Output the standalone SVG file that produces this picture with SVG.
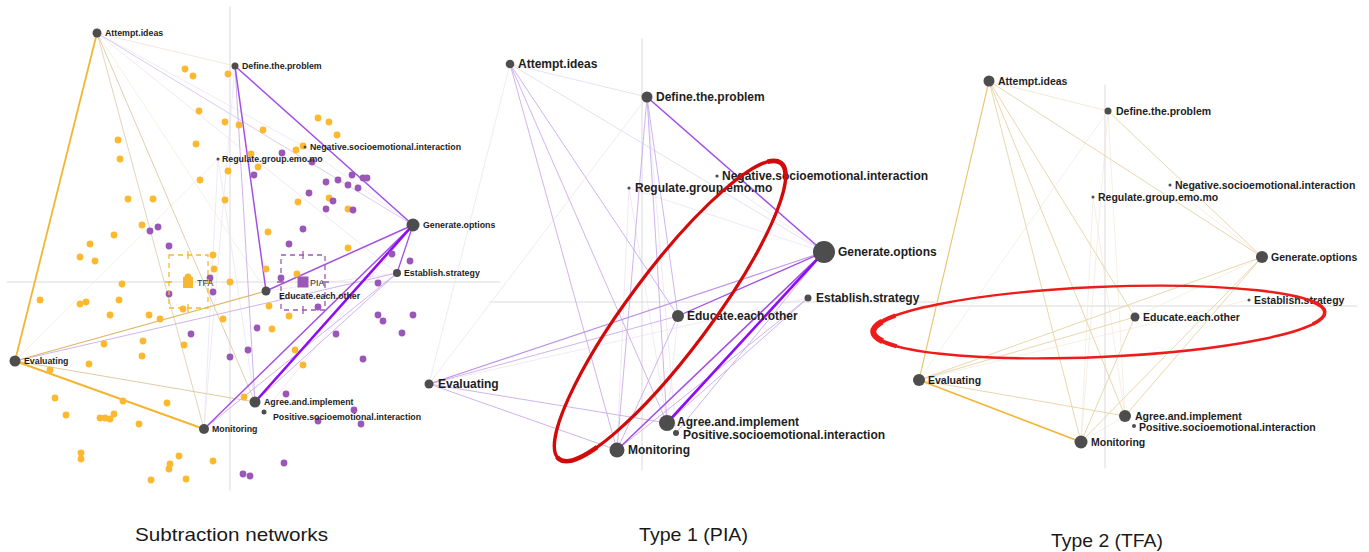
<svg xmlns="http://www.w3.org/2000/svg" width="1369" height="552" viewBox="0 0 1369 552">
<style>
text{font-family:"Liberation Sans",Arial,sans-serif;fill:#1e1e1e}
.t1{font-size:8.8px;font-weight:bold}
.t2{font-size:12px;font-weight:bold}
.t3{font-size:10.5px;font-weight:bold}
.ttl{font-size:19px;fill:#1a1a1a}
.nd{fill:#4d4d4d}
.ax{stroke:#d2d2d2;stroke-width:0.8;fill:none}
line{stroke-linecap:round}
.y1{stroke:#f3b634;stroke-width:2}
.y2{stroke:#dfb869;stroke-width:1.2}
.y3{stroke:#e6d2a4;stroke-width:0.9}
.y4{stroke:#f0e9da;stroke-width:0.7}
.p1{stroke:#8f0cf5;stroke-width:2.6}
.p2{stroke:#a24fe6;stroke-width:1.5}
.p3{stroke:#c9abea;stroke-width:0.9}
.p4{stroke:#e9e0f2;stroke-width:0.7}
.yd{fill:#fcb92f}
.pd{fill:#9a57b7}
.ci{fill:none;stroke-width:1.3;stroke-dasharray:5,4}
</style>

<g id="axes">
<line class="ax" x1="230" y1="7" x2="230" y2="490"/>
<line class="ax" x1="7" y1="282" x2="500" y2="282"/>
<line class="ax" x1="642" y1="39" x2="642" y2="470"/>
<line class="ax" x1="490" y1="302" x2="935" y2="302"/>
<line class="ax" x1="1105" y1="85" x2="1105" y2="468"/>
<line class="ax" x1="920" y1="306" x2="1357" y2="306"/>
</g>

<g id="connectors">
<!-- panel 1 subtraction -->
<line class="y4" x1="97" y1="33" x2="235" y2="66" style="stroke:#e8dfcc"/>
<line class="y4" x1="97" y1="33" x2="266" y2="291"/>
<line class="y4" x1="15" y1="361" x2="218" y2="159"/>
<line class="p4" x1="97" y1="33" x2="305" y2="147"/>
<line class="p4" x1="97" y1="33" x2="397" y2="273"/>
<line class="p3" x1="97" y1="33" x2="413" y2="225" style="stroke:#d6c6ea"/>
<line class="p4" x1="218" y1="159" x2="204" y2="429"/>
<line class="p4" x1="218" y1="159" x2="255" y2="402"/>
<line class="p4" x1="305" y1="147" x2="413" y2="225"/>
<line class="p4" x1="235" y1="66" x2="204" y2="429"/>
<line class="p3" x1="235" y1="66" x2="255" y2="402"/>
<line class="p4" x1="413" y1="225" x2="264" y2="412"/>
<line class="p4" x1="266" y1="291" x2="397" y2="273"/>
<line class="y3" x1="97" y1="33" x2="204" y2="429" style="stroke:#ded0b4"/>
<line class="y3" x1="97" y1="33" x2="255" y2="402" style="stroke:#dccaa6"/>
<line class="y3" x1="15" y1="361" x2="255" y2="402" style="stroke:#dcc597"/>
<line class="p3" x1="15" y1="361" x2="397" y2="273"/>
<line class="y2" x1="15" y1="361" x2="266" y2="291"/>
<line class="y1" x1="97" y1="33" x2="15" y2="361" style="stroke-width:1.8"/>
<line class="y1" x1="15" y1="361" x2="204" y2="429" style="stroke-width:2.2"/>
<line class="p3" x1="397" y1="273" x2="204" y2="429"/>
<line class="p3" x1="397" y1="273" x2="255" y2="402"/>
<line class="p2" x1="235" y1="66" x2="413" y2="225"/>
<line class="p2" x1="235" y1="66" x2="266" y2="291"/>
<line class="p2" x1="413" y1="225" x2="266" y2="291"/>
<line class="p2" x1="413" y1="225" x2="397" y2="273" style="stroke-width:1.3"/>
<line class="p2" x1="413" y1="225" x2="204" y2="429"/>
<line class="p1" x1="413" y1="225" x2="255" y2="402"/>

<!-- panel 2 PIA -->
<line class="p4" x1="510" y1="64" x2="647" y2="97" style="stroke:#ddd3e8"/>
<line class="p4" x1="510" y1="64" x2="429" y2="384"/>
<line class="p4" x1="510" y1="64" x2="824" y2="252" style="stroke:#ddd0ec"/>
<line class="p4" x1="647" y1="97" x2="429" y2="384"/>
<line class="p4" x1="647" y1="97" x2="676" y2="433"/>
<line class="p4" x1="629" y1="188" x2="667" y2="423"/>
<line class="p4" x1="629" y1="188" x2="617" y2="450"/>
<line class="p4" x1="717" y1="176" x2="824" y2="252"/>
<line class="p4" x1="629" y1="188" x2="824" y2="252"/>
<line class="p4" x1="429" y1="384" x2="808" y2="298"/>
<line class="p4" x1="678" y1="316" x2="667" y2="423"/>
<line class="p3" x1="510" y1="64" x2="617" y2="450"/>
<line class="p3" x1="510" y1="64" x2="667" y2="423"/>
<line class="p3" x1="510" y1="64" x2="678" y2="316"/>
<line class="p3" x1="647" y1="97" x2="678" y2="316"/>
<line class="p3" x1="647" y1="97" x2="667" y2="423"/>
<line class="p3" x1="647" y1="97" x2="617" y2="450"/>
<line class="p3" x1="429" y1="384" x2="617" y2="450"/>
<line class="p3" x1="429" y1="384" x2="667" y2="423"/>
<line class="p3" x1="429" y1="384" x2="678" y2="316"/>
<line class="p3" x1="678" y1="316" x2="617" y2="450"/>
<line class="p3" x1="808" y1="298" x2="617" y2="450"/>
<line class="p3" x1="808" y1="298" x2="667" y2="423"/>
<line class="p3" x1="824" y1="252" x2="676" y2="433"/>
<line class="p3" x1="824" y1="252" x2="429" y2="384" style="stroke-width:1.1;stroke:#bb92e6"/>
<line class="p2" x1="824" y1="252" x2="678" y2="316" style="stroke-width:1.3"/>
<line class="p2" x1="647" y1="97" x2="824" y2="252" style="stroke-width:1.6"/>
<line class="p2" x1="824" y1="252" x2="617" y2="450" style="stroke-width:1.6"/>
<line class="p1" x1="824" y1="252" x2="667" y2="423"/>

<!-- panel 3 TFA -->
<line class="y4" x1="989" y1="81" x2="1108" y2="111" style="stroke:#ece0c4"/>
<line class="y4" x1="1108" y1="111" x2="1081" y2="442"/>
<line class="y4" x1="1108" y1="111" x2="919" y2="380"/>
<line class="y4" x1="1108" y1="111" x2="1125" y2="416"/>
<line class="y4" x1="1262" y1="257" x2="1135" y2="317"/>
<line class="y4" x1="1093" y1="197" x2="1081" y2="442"/>
<line class="y4" x1="1093" y1="197" x2="1125" y2="416"/>
<line class="y4" x1="1170" y1="185" x2="1262" y2="257"/>
<line class="y4" x1="1125" y1="416" x2="1081" y2="442"/>
<line class="y4" x1="919" y1="380" x2="1249" y2="300"/>
<line class="y3" x1="989" y1="81" x2="1081" y2="442"/>
<line class="y3" x1="989" y1="81" x2="1125" y2="416"/>
<line class="y3" x1="989" y1="81" x2="1135" y2="317"/>
<line class="y3" x1="989" y1="81" x2="1262" y2="257"/>
<line class="y3" x1="1108" y1="111" x2="1262" y2="257"/>
<line class="y3" x1="1262" y1="257" x2="919" y2="380"/>
<line class="y3" x1="1262" y1="257" x2="1081" y2="442"/>
<line class="y3" x1="1262" y1="257" x2="1125" y2="416"/>
<line class="y3" x1="1135" y1="317" x2="919" y2="380"/>
<line class="y3" x1="1135" y1="317" x2="1081" y2="442"/>
<line class="y3" x1="919" y1="380" x2="1125" y2="416"/>
<line class="y2" x1="989" y1="81" x2="919" y2="380" style="stroke:#e8c46e;stroke-width:1.1"/>
<line class="y1" x1="919" y1="380" x2="1081" y2="442" style="stroke-width:1.8"/>
</g>

<g id="points-tfa" class="yd">
<circle cx="185" cy="69" r="3.4"/><circle cx="193" cy="76" r="3.4"/><circle cx="228" cy="74" r="3.4"/><circle cx="199" cy="111" r="3.4"/><circle cx="225" cy="122" r="3.4"/><circle cx="239" cy="125" r="3.4"/><circle cx="263" cy="130" r="3.4"/><circle cx="318" cy="118" r="3.4"/><circle cx="329" cy="122" r="3.4"/><circle cx="337" cy="135" r="3.4"/><circle cx="118" cy="140" r="3.4"/><circle cx="120" cy="159" r="3.4"/><circle cx="196" cy="144" r="3.4"/><circle cx="303" cy="146" r="3.4"/><circle cx="296" cy="150" r="3.4"/><circle cx="251" cy="154" r="3.4"/><circle cx="258" cy="167" r="3.4"/><circle cx="228" cy="171" r="3.4"/><circle cx="200" cy="180" r="3.4"/><circle cx="128" cy="199" r="3.4"/><circle cx="153" cy="199" r="3.4"/><circle cx="225" cy="200" r="3.4"/><circle cx="142" cy="225" r="3.4"/><circle cx="114" cy="235" r="3.4"/><circle cx="90" cy="244" r="3.4"/><circle cx="298" cy="202" r="3.4"/><circle cx="329" cy="198" r="3.4"/><circle cx="348" cy="209" r="3.4"/><circle cx="268" cy="232" r="3.4"/><circle cx="348" cy="248" r="3.4"/><circle cx="80" cy="257" r="3.4"/><circle cx="95" cy="261" r="3.4"/><circle cx="122" cy="284" r="3.4"/><circle cx="40" cy="300" r="3.4"/><circle cx="80" cy="304" r="3.4"/><circle cx="86" cy="302" r="3.4"/><circle cx="119" cy="300" r="3.4"/><circle cx="110" cy="315" r="3.4"/><circle cx="149" cy="315" r="3.4"/><circle cx="160" cy="319" r="3.4"/><circle cx="104" cy="344" r="3.4"/><circle cx="143" cy="341" r="3.4"/><circle cx="142" cy="356" r="3.4"/><circle cx="184" cy="345" r="3.4"/><circle cx="89" cy="364" r="3.4"/><circle cx="50" cy="370" r="3.4"/><circle cx="55" cy="398" r="3.4"/><circle cx="66" cy="415" r="3.4"/><circle cx="123" cy="401" r="3.4"/><circle cx="167" cy="403" r="3.4"/><circle cx="100" cy="418" r="3.4"/><circle cx="105" cy="418" r="3.4"/><circle cx="110" cy="419" r="3.4"/><circle cx="114" cy="414" r="3.4"/><circle cx="139" cy="424" r="3.4"/><circle cx="81" cy="453" r="3.4"/><circle cx="81" cy="459" r="3.4"/><circle cx="179" cy="456" r="3.4"/><circle cx="170" cy="464" r="3.4"/><circle cx="169" cy="469" r="3.4"/><circle cx="213" cy="461" r="3.4"/><circle cx="151" cy="480" r="3.4"/><circle cx="186" cy="479" r="3.4"/><circle cx="213" cy="255" r="3.4"/><circle cx="214" cy="269" r="3.4"/><circle cx="230" cy="282" r="3.4"/><circle cx="183" cy="309" r="3.4"/><circle cx="223" cy="319" r="3.4"/><circle cx="266" cy="269" r="3.4"/><circle cx="297" cy="274" r="3.4"/><circle cx="269" cy="306" r="3.4"/><circle cx="289" cy="316" r="3.4"/><circle cx="272" cy="329" r="3.4"/><circle cx="295" cy="350" r="3.4"/><circle cx="303" cy="365" r="3.4"/><circle cx="244" cy="397" r="3.4"/>
</g>
<g id="points-pia" class="pd">
<circle cx="282" cy="153" r="3.4"/><circle cx="312" cy="162" r="3.4"/><circle cx="254" cy="175" r="3.4"/><circle cx="352" cy="175" r="3.4"/><circle cx="363" cy="178" r="3.4"/><circle cx="367" cy="178" r="3.4"/><circle cx="326" cy="182" r="3.4"/><circle cx="338" cy="180" r="3.4"/><circle cx="348" cy="185" r="3.4"/><circle cx="358" cy="188" r="3.4"/><circle cx="309" cy="193" r="3.4"/><circle cx="333" cy="201" r="3.4"/><circle cx="326" cy="209" r="3.4"/><circle cx="353" cy="210" r="3.4"/><circle cx="303" cy="229" r="3.4"/><circle cx="289" cy="244" r="3.4"/><circle cx="150" cy="231" r="3.4"/><circle cx="158" cy="227" r="3.4"/><circle cx="169" cy="246" r="3.4"/><circle cx="210" cy="278" r="3.4"/><circle cx="169" cy="294" r="3.4"/><circle cx="213" cy="292" r="3.4"/><circle cx="281" cy="278" r="3.4"/><circle cx="318" cy="307" r="3.4"/><circle cx="378" cy="283" r="3.4"/><circle cx="392" cy="254" r="3.4"/><circle cx="410" cy="261" r="3.4"/><circle cx="378" cy="315" r="3.4"/><circle cx="383" cy="321" r="3.4"/><circle cx="413" cy="315" r="3.4"/><circle cx="336" cy="334" r="3.4"/><circle cx="402" cy="333" r="3.4"/><circle cx="191" cy="334" r="3.4"/><circle cx="257" cy="328" r="3.4"/><circle cx="248" cy="350" r="3.4"/><circle cx="230" cy="357" r="3.4"/><circle cx="363" cy="359" r="3.4"/><circle cx="286" cy="394" r="3.4"/><circle cx="354" cy="410" r="3.4"/><circle cx="318" cy="421" r="3.4"/><circle cx="361" cy="424" r="3.4"/><circle cx="284" cy="463" r="3.4"/><circle cx="243" cy="474" r="3.4"/><circle cx="250" cy="476" r="3.4"/>
</g>

<g id="mean-tfa">
<rect class="ci" x="169" y="255" width="39" height="53" stroke="#f5b82e"/>
<path d="M188 251V259M188 304V312M165 282H172M205 282H212" stroke="#f5b82e" stroke-width="1.3"/>
<rect x="183" y="277" width="10" height="11" fill="#f5b82e"/>
<circle cx="188" cy="277" r="3.5" fill="#f5b82e"/>
<text x="197" y="286" style="font-size:9px;fill:#333">TFA</text>
</g>
<g id="mean-pia">
<rect class="ci" x="281" y="255" width="44" height="55" stroke="#9b59b6"/>
<path d="M303 251V259M303 306V314M277 282H284M322 282H329" stroke="#9b59b6" stroke-width="1.3"/>
<rect x="297.5" y="276.5" width="11" height="11" fill="#9b59b6"/>
<text x="310" y="286" style="font-size:9px;fill:#333">PIA</text>
</g>

<g id="s-attempt"><circle class="nd" cx="97" cy="33" r="4.5"/><text class="t1" x="105" y="36">Attempt.ideas</text></g>
<g id="s-define"><circle class="nd" cx="235" cy="66" r="3.5"/><text class="t1" x="242" y="69">Define.the.problem</text></g>
<g id="s-negative"><circle class="nd" cx="305" cy="147" r="1.5"/><text class="t1" x="310" y="150">Negative.socioemotional.interaction</text></g>
<g id="s-regulate"><circle class="nd" cx="218" cy="159" r="1.5"/><text class="t1" x="222" y="162">Regulate.group.emo.mo</text></g>
<g id="s-generate"><circle class="nd" cx="413" cy="225" r="6.5"/><text class="t1" x="423" y="228">Generate.options</text></g>
<g id="s-establish"><circle class="nd" cx="397" cy="273" r="4"/><text class="t1" x="404" y="276">Establish.strategy</text></g>
<g id="s-educate"><circle class="nd" cx="266" cy="291" r="4.5"/><text class="t1" x="279" y="299">Educate.each.other</text></g>
<g id="s-evaluating"><circle class="nd" cx="15" cy="361" r="5.5"/><text class="t1" x="24" y="364">Evaluating</text></g>
<g id="s-agree"><circle class="nd" cx="255" cy="402" r="5.5"/><text class="t1" x="264" y="405">Agree.and.implement</text></g>
<g id="s-positive"><circle class="nd" cx="264" cy="412" r="2.5"/><text class="t1" x="273" y="420">Positive.socioemotional.interaction</text></g>
<g id="s-monitoring"><circle class="nd" cx="204" cy="429" r="5"/><text class="t1" x="212" y="432">Monitoring</text></g>

<g id="p-attempt"><circle class="nd" cx="510" cy="64" r="4.3"/><text class="t2" x="518" y="68">Attempt.ideas</text></g>
<g id="p-define"><circle class="nd" cx="647" cy="97" r="5.5"/><text class="t2" x="656" y="101">Define.the.problem</text></g>
<g id="p-negative"><circle class="nd" cx="717" cy="176" r="1.6"/><text class="t2" x="722" y="180">Negative.socioemotional.interaction</text></g>
<g id="p-regulate"><circle class="nd" cx="629" cy="188" r="1.6"/><text class="t2" x="635" y="192">Regulate.group.emo.mo</text></g>
<g id="p-generate"><circle class="nd" cx="824" cy="252" r="11"/><text class="t2" x="838" y="256">Generate.options</text></g>
<g id="p-establish"><circle class="nd" cx="808" cy="298" r="3.5"/><text class="t2" x="816" y="302">Establish.strategy</text></g>
<g id="p-educate"><circle class="nd" cx="678" cy="316" r="6"/><text class="t2" x="687" y="320">Educate.each.other</text></g>
<g id="p-evaluating"><circle class="nd" cx="429" cy="384" r="4.5"/><text class="t2" x="438" y="388">Evaluating</text></g>
<g id="p-agree"><circle class="nd" cx="667" cy="423" r="8"/><text class="t2" x="677" y="425.5">Agree.and.implement</text></g>
<g id="p-positive"><circle class="nd" cx="676" cy="433" r="3"/><text class="t2" x="683" y="438.5">Positive.socioemotional.interaction</text></g>
<g id="p-monitoring"><circle class="nd" cx="617" cy="450" r="7.5"/><text class="t2" x="628" y="454">Monitoring</text></g>

<g id="t-attempt"><circle class="nd" cx="989" cy="81" r="5.5"/><text class="t3" x="998" y="85">Attempt.ideas</text></g>
<g id="t-define"><circle class="nd" cx="1108" cy="111" r="3.5"/><text class="t3" x="1116" y="115">Define.the.problem</text></g>
<g id="t-negative"><circle class="nd" cx="1170" cy="185" r="1.5"/><text class="t3" x="1175" y="189">Negative.socioemotional.interaction</text></g>
<g id="t-regulate"><circle class="nd" cx="1093" cy="197" r="1.5"/><text class="t3" x="1098" y="201">Regulate.group.emo.mo</text></g>
<g id="t-generate"><circle class="nd" cx="1262" cy="257" r="6"/><text class="t3" x="1271" y="261">Generate.options</text></g>
<g id="t-establish"><circle class="nd" cx="1249" cy="300" r="1.5"/><text class="t3" x="1254" y="304">Establish.strategy</text></g>
<g id="t-educate"><circle class="nd" cx="1135" cy="317" r="4.5"/><text class="t3" x="1143" y="321">Educate.each.other</text></g>
<g id="t-evaluating"><circle class="nd" cx="919" cy="380" r="6"/><text class="t3" x="928" y="384">Evaluating</text></g>
<g id="t-agree"><circle class="nd" cx="1125" cy="416" r="6"/><text class="t3" x="1135" y="419.5">Agree.and.implement</text></g>
<g id="t-positive"><circle class="nd" cx="1134" cy="426" r="2"/><text class="t3" x="1139" y="430.5">Positive.socioemotional.interaction</text></g>
<g id="t-monitoring"><circle class="nd" cx="1081" cy="442" r="6.5"/><text class="t3" x="1091" y="446">Monitoring</text></g>

<g id="highlights" fill="none">
<ellipse cx="670" cy="311" rx="185" ry="41" transform="rotate(-53.2 670 311)" stroke="#d20a0a" stroke-width="3.2"/>
<ellipse cx="670" cy="311" rx="185" ry="41" transform="rotate(-53.2 670 311)" stroke="#d20a0a" stroke-width="4.6" stroke-dasharray="15 335 45 375 14"/>
<ellipse cx="1099" cy="322" rx="226" ry="35" transform="rotate(-2.5 1099 322)" stroke="#ee1b1b" stroke-width="2.4"/>
<ellipse cx="1099" cy="322" rx="226" ry="35" transform="rotate(-2.5 1099 322)" stroke="#ee1b1b" stroke-width="4.2" stroke-dasharray="0 438 58 1000"/>
<ellipse cx="1099" cy="322" rx="226" ry="35" transform="rotate(-2.5 1099 322)" stroke="#ee1b1b" stroke-width="6" stroke-dasharray="0 453 28 1000"/>
<ellipse cx="1099" cy="322" rx="226" ry="35" transform="rotate(-2.5 1099 322)" stroke="#ee1b1b" stroke-width="3.6" stroke-dasharray="18 897 19"/>
</g>

<text class="ttl" x="135" y="541" textLength="193" lengthAdjust="spacingAndGlyphs">Subtraction networks</text>
<text class="ttl" x="639" y="541" textLength="109" lengthAdjust="spacingAndGlyphs">Type 1 (PIA)</text>
<text class="ttl" x="1051" y="547" textLength="112" lengthAdjust="spacingAndGlyphs">Type 2 (TFA)</text>
</svg>
